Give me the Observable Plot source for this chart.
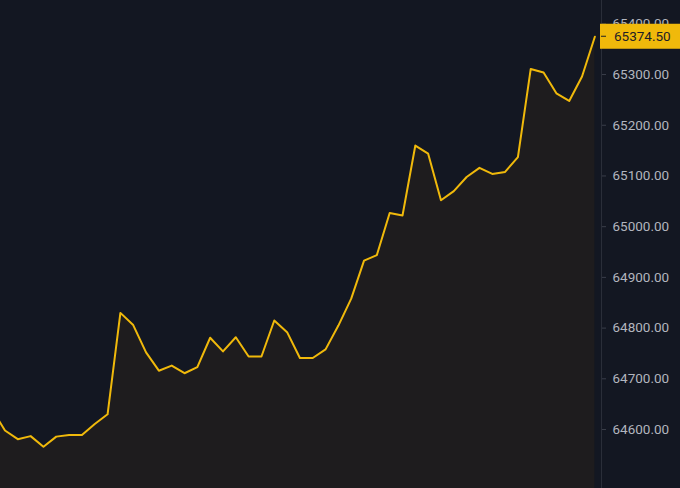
<!DOCTYPE html>
<html>
<head>
<meta charset="utf-8">
<script src="https://cdn.jsdelivr.net/npm/d3@7"></script>
<script src="https://cdn.jsdelivr.net/npm/@observablehq/plot@0.6"></script>
<style>
  html, body { margin: 0; padding: 0; background: #131722; overflow: hidden; }
  #chart svg { display: block; }
</style>
</head>
<body>
<div id="chart"></div>
<script>
// price series (index -1 is partly off-screen to the left)
const idx = d3.range(-1, 47);
const prices = [
  64639, 64598, 64581, 64587, 64566, 64586, 64589, 64589, 64611, 64630,
  64830, 64806, 64752, 64716, 64726, 64711, 64723, 64781, 64754, 64782,
  64744, 64744, 64815, 64792, 64741, 64741, 64758, 64805, 64858, 64933,
  64944, 65027, 65022, 65160, 65144, 65052, 65070, 65098, 65116, 65104,
  65108, 65137, 65311, 65304, 65263, 65248, 65296, 65374.5
];
const yTicks = [64600, 64700, 64800, 64900, 65000, 65100, 65200, 65300, 65400];
const lastPrice = prices[prices.length - 1];

const data = idx.map((k, i) => ({k, p: prices[i]}));
const yDomain = [64483.7, 65446];

const chart = Plot.plot({
  width: 680,
  height: 488,
  marginLeft: 0,
  marginRight: 80,
  marginTop: 0,
  marginBottom: 0,
  clip: true,
  style: {background: "#131722", fontFamily: "Roboto, sans-serif", fontSize: "13.5px"},
  x: {domain: [-0.35, 46.44], axis: null},
  y: {domain: yDomain, axis: null},
  marks: [
    Plot.areaY(data, {x: "k", y1: yDomain[0], y2: "p", fill: "#1e1c1e"}),
    Plot.lineY(data, {x: "k", y: "p", stroke: "#f0b90b", strokeWidth: 2}),
    Plot.axisY(yTicks, {
      anchor: "right",
      label: null,
      tickSize: 5,
      tickPadding: 7,
      stroke: "#3a3e4a",
      fill: "#b2b5be",
      tickFormat: d => d.toFixed(2),
      fontSize: 13.5
    }),
    Plot.ruleX([0], {x: () => 46.44, stroke: "#2a2e39", strokeWidth: 1, clip: false, dx: 1})
  ]
});

document.getElementById("chart").appendChild(chart);

// last-price badge, positioned through the chart's y scale
const svg = d3.select(chart);
const yPos = chart.scale("y").apply(lastPrice);
const g = svg.append("g").attr("text-anchor", "start");
g.append("rect")
  .attr("x", 600).attr("y", yPos - 12.5)
  .attr("width", 80).attr("height", 25)
  .attr("fill", "#f0b90b");
g.append("line")
  .attr("x1", 601).attr("x2", 606)
  .attr("y1", yPos).attr("y2", yPos)
  .attr("stroke", "#1e2026").attr("stroke-width", 1);
g.append("text")
  .attr("x", 614).attr("y", yPos)
  .attr("dy", "0.35em")
  .attr("text-anchor", "start")
  .attr("fill", "#1e2026")
  .attr("font-family", "Roboto, sans-serif")
  .attr("font-size", 13.5)
  .text(lastPrice.toFixed(2));
</script>
</body>
</html>
